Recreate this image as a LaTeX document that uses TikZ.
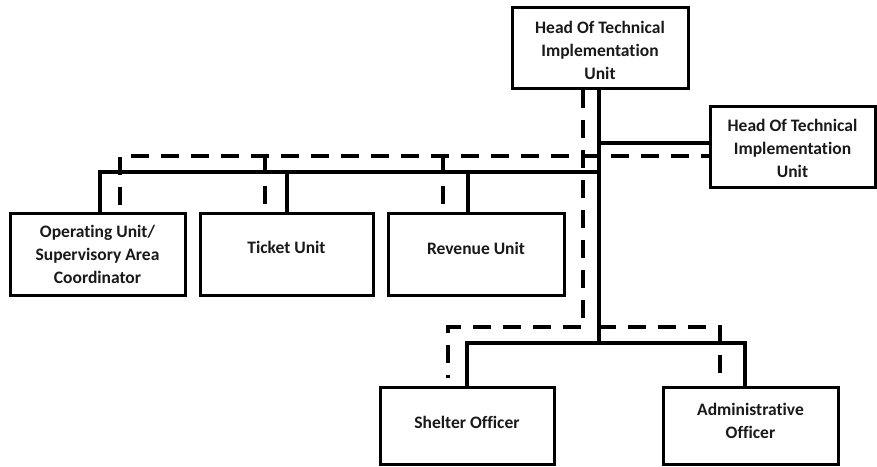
\documentclass[tikz,border=0pt]{standalone}
\usepackage{fontspec}
\setmainfont{Carlito}[Ligatures=NoCommon]
\begin{document}
\begin{tikzpicture}[x=1pt,y=-1pt,
  unitbox/.style={draw=black, line width=3pt, inner sep=0pt},
  boxtext/.style={inner sep=0pt, align=center,
    font=\bfseries\fontsize{17.5}{23}\selectfont, text=black!90},
  solidline/.style={line width=4pt, line cap=butt, line join=miter},
  dashline/.style={line width=4pt, line cap=butt, line join=miter, dash pattern=on 18pt off 12pt}]
\useasboundingbox[fill=white] (0,0) rectangle (877,466);
\clip (0,0) rectangle (877,466);
% clipped text line at the very top
\node[anchor=base west, inner sep=0pt, font=\fontsize{26}{30}\selectfont] (toptext) at (14,-7.5) {ary operated by};
% boxes
\node[unitbox, minimum width=176pt, minimum height=81pt] (head1) at (600,47.5) {};
\node[unitbox, minimum width=165pt, minimum height=81pt] (head2) at (792.5,146.5) {};
\node[unitbox, minimum width=175pt, minimum height=82pt] (op) at (97.5,254) {};
\node[unitbox, minimum width=173pt, minimum height=82pt] (ticket) at (286.5,254) {};
\node[unitbox, minimum width=176pt, minimum height=82pt] (rev) at (476,254) {};
\node[unitbox, minimum width=174pt, minimum height=77pt] (shelter) at (467,425.5) {};
\node[unitbox, minimum width=175pt, minimum height=77pt] (admin) at (750.5,425.5) {};
% box texts
\node[boxtext] (head1t) at ([yshift=-3pt]head1.center) {Head Of Technical\\Implementation\\Unit};
\node[boxtext] (head2t) at ([yshift=-1.5pt]head2.center) {Head Of Technical\\Implementation\\Unit};
\node[boxtext] (opt) at (op.center) {Operating Unit/\\Supervisory Area\\Coordinator};
\node[boxtext] (tickett) at ([yshift=7pt]ticket.center) {Ticket Unit};
\node[boxtext] (revt) at ([yshift=6pt]rev.center) {Revenue Unit};
\node[boxtext] (sheltert) at ([yshift=3.5pt]shelter.center) {Shelter Officer};
\node[boxtext] (admint) at ([yshift=5pt]admin.center) {Administrative\\Officer};
% junction coordinates
\coordinate (ja) at (599,172);
\coordinate (jh) at (599,143);
\coordinate (jb) at (599,343);
\coordinate (dtopL) at (120,156);
\coordinate (dmain) at (583,327);
\coordinate (dbotL) at (448,378);
\coordinate (dbotR) at (720,378);
% solid connectors
\draw[solidline] ([xshift=-1pt]head1.south) -- (jb);
\draw[solidline] (jh) -- ([yshift=3.5pt]head2.west);
\draw[solidline] ([xshift=2.5pt]op.north) |- (ja);
\draw[solidline] (ticket.north) -- (ticket.north |- ja);
\draw[solidline] ([xshift=-8pt]rev.north) -- ([xshift=-8pt]rev.north |- ja);
\draw[solidline] (shelter.north) |- (jb) -| ([xshift=-5.5pt]admin.north);
% dashed connectors
\draw[dashline] (120,205) -- (dtopL) -- ([yshift=-9.5pt]head2.west);
\draw[dashline] (265,156) -- (265,205);
\draw[dashline] (443,156) -- (443,205);
\draw[dashline] ([xshift=-17pt]head1.south) -- (dmain) -- (448,327) -- (dbotL);
\draw[dashline] (598,327) -- (720,327) -- (dbotR);
\end{tikzpicture}
\end{document}
